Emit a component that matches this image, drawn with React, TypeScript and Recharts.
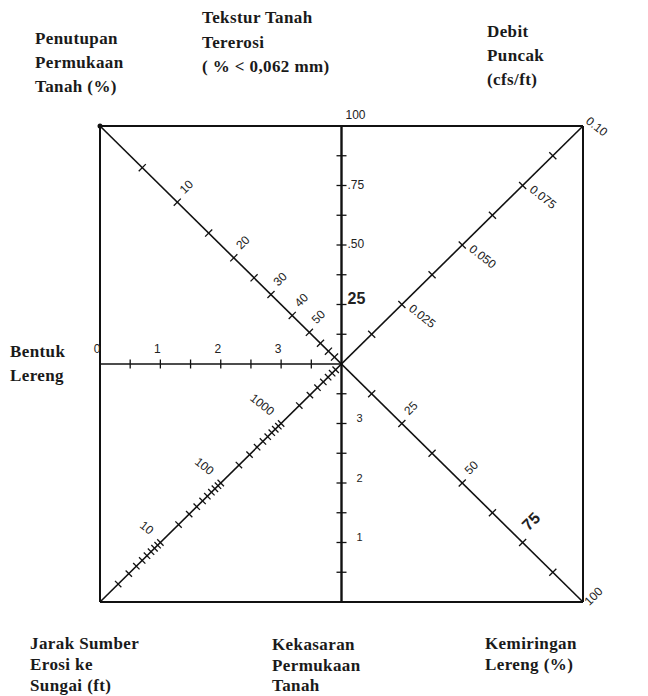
import { ReferenceLine, Scatter, ScatterChart, XAxis, YAxis } from 'recharts'

// box is 0..100 on both axes, the six scales meet at the centre (50, 50)

// Penutupan Permukaan Tanah (%) - top-left diagonal, uneven scale (0 = corner, 1 = centre)
const coverTicks = [5, 10, 15, 20, 25, 30, 40, 50, 60, 70, 80]
const coverPos = [0.175, 0.32, 0.45, 0.554, 0.638, 0.708, 0.796, 0.867, 0.913, 0.946, 0.971]
const coverLabels = [10, 20, 30, 40, 50]

// Tekstur Tanah Tererosi - upper half of vertical line, 0 at centre, 100 at top
const textureTicks = [12.5, 25, 37.5, 50, 62.5, 75, 87.5]
const textureLabels = [25, 50, 75, 100]
const textureText = ['25', '.50', '.75', '100']

// Debit Puncak (cfs/ft) - top-right diagonal, 0 at centre, 0.10 at corner
const peakTicks = [0.0125, 0.025, 0.0375, 0.05, 0.0625, 0.075, 0.0875]
const peakLabels = [0.025, 0.05, 0.075, 0.1]
const peakText = ['0.025', '0.050', '0.075', '0.10']

// Bentuk Lereng - left half of horizontal line, 0 at left edge, 4 at centre
const shapeTicks = [0.5, 1, 1.5, 2, 2.5, 3, 3.5]
const shapeLabels = [0, 1, 2, 3]

// Kekasaran Permukaan Tanah - lower half of vertical line, 0 at bottom, 4 at centre
const roughTicks = [0.5, 1, 1.5, 2, 2.5, 3, 3.5]
const roughLabels = [1, 2, 3]

// Jarak Sumber Erosi ke Sungai (ft) - bottom-left diagonal, log scale 1..10000
const distTicks = [
   2, 3, 4, 5, 6, 7, 8, 9, 10,
   20, 30, 40, 50, 60, 70, 80, 90, 100,
   200, 300, 400, 500, 600, 700, 800, 900, 1000,
   2000, 3000, 4000, 5000, 6000, 7000, 8000
]
const distLabels = [10, 100, 1000]

// Kemiringan Lereng (%) - bottom-right diagonal, 0 at centre, 100 at corner
const slopeTicks = [12.5, 25, 37.5, 50, 62.5, 75, 87.5]
const slopeLabels = [25, 50, 75, 100]

type Pt = { x: number; y: number }
const C: Pt = { x: 50, y: 50 }
const along = (a: Pt, b: Pt, t: number) => ({ x: a.x + (b.x - a.x) * t, y: a.y + (b.y - a.y) * t })

const coverFrac = (v: number) => coverPos[coverTicks.indexOf(v)]

const axes = {
   cover: { a: { x: 0, y: 100 }, b: C, f: coverFrac, ang: 45, len: 5 },
   texture: { a: C, b: { x: 50, y: 100 }, f: (v: number) => v / 100, ang: 90, len: 5 },
   peak: { a: C, b: { x: 100, y: 100 }, f: (v: number) => v / 0.1, ang: -45, len: 5 },
   shape: { a: { x: 0, y: 50 }, b: C, f: (v: number) => v / 4, ang: 0, len: 4.5 },
   rough: { a: { x: 50, y: 0 }, b: C, f: (v: number) => v / 4, ang: 90, len: 5 },
   dist: { a: { x: 0, y: 0 }, b: C, f: (v: number) => Math.log10(v) / 4, ang: -45, len: 4.5 },
   slope: { a: C, b: { x: 100, y: 0 }, f: (v: number) => v / 100, ang: 45, len: 5 }
}

type AxisKey = keyof typeof axes

const tickData = (key: AxisKey, values: number[]) => {
   const ax = axes[key]
   return values.map((v) => ({ ...along(ax.a, ax.b, ax.f(v)), ang: ax.ang, len: ax.len }))
}

type LabelStyle = { dx: number; dy: number; rot: number; anchor: string; size: number; bold?: boolean }

const labelData = (key: AxisKey, values: number[], texts: string[], style: LabelStyle, special: Record<string, Partial<LabelStyle>> = {}) => {
   const ax = axes[key]
   return values.map((v, i) => ({
      ...along(ax.a, ax.b, ax.f(v)),
      text: texts[i],
      ...style,
      ...(special[texts[i]] || {})
   }))
}

const allTicks = [
   ...tickData('cover', coverTicks),
   ...tickData('texture', textureTicks),
   ...tickData('peak', peakTicks),
   ...tickData('shape', shapeTicks),
   ...tickData('rough', roughTicks),
   ...tickData('dist', distTicks),
   ...tickData('slope', slopeTicks)
]

const allLabels = [
   ...labelData('cover', coverLabels, coverLabels.map(String), { dx: 5, dy: -10, rot: -45, anchor: 'start', size: 12 }),
   ...labelData('texture', textureLabels, textureText, { dx: 6, dy: 0, rot: 0, anchor: 'start', size: 12 }, {
      '25': { size: 16, bold: true, dx: 6, dy: -5 },
      '100': { dx: 4, dy: -10 }
   }),
   ...labelData('peak', peakLabels, peakText, { dx: 8, dy: 3, rot: 38, anchor: 'start', size: 12 }, {
      '0.10': { dx: 4, dy: -6 }
   }),
   ...labelData('shape', shapeLabels, shapeLabels.map(String), { dx: -3, dy: -14, rot: 0, anchor: 'middle', size: 12 }),
   ...labelData('rough', roughLabels, roughLabels.map(String), { dx: 15, dy: -4, rot: 0, anchor: 'start', size: 11 }),
   ...labelData('dist', distLabels, distLabels.map(String), { dx: -9, dy: -10, rot: 38, anchor: 'end', size: 12 }),
   ...labelData('slope', slopeLabels, slopeLabels.map(String), { dx: 5, dy: -10, rot: -45, anchor: 'start', size: 12 }, {
      '75': { size: 16, bold: true, dx: 3, dy: -14 },
      '100': { dx: 4, dy: 2 }
   })
]

const corner = [{ x: 0, y: 100 }]

const TickMark = (props: any) => {
   const { cx, cy, payload } = props
   const r = ((payload.ang + 90) * Math.PI) / 180
   const dx = Math.cos(r) * payload.len
   const dy = Math.sin(r) * payload.len
   return <line x1={cx - dx} y1={cy - dy} x2={cx + dx} y2={cy + dy} stroke="#111" strokeWidth={1.3} />
}

const TickText = (props: any) => {
   const { cx, cy, payload } = props
   const x = cx + payload.dx
   const y = cy + payload.dy
   return (
      <text
         x={x}
         y={y}
         textAnchor={payload.anchor}
         dominantBaseline="middle"
         transform={`rotate(${payload.rot} ${x} ${y})`}
         fontFamily="'Liberation Sans', Arial, sans-serif"
         fontSize={payload.size}
         fontWeight={payload.bold ? 'bold' : 'normal'}
         fill="#222"
      >
         {payload.text}
      </text>
   )
}

const titleStyle = {
   position: 'absolute' as const,
   fontFamily: "'Liberation Serif', 'Times New Roman', serif",
   fontWeight: 'bold' as const,
   fontSize: 17,
   letterSpacing: 0.4,
   color: '#1a1a1a',
   whiteSpace: 'nowrap' as const
}

const Title = ({ left, top, lh, lines }: { left: number; top: number; lh: number; lines: string[] }) => (
   <div style={{ ...titleStyle, left, top, lineHeight: `${lh}px` }}>
      {lines.map((l) => (
         <div key={l}>{l}</div>
      ))}
   </div>
)

export default function App() {
   const line = { stroke: '#111', ifOverflow: 'visible' as const }
   return (
      <div style={{ position: 'relative', width: 640, height: 688 }}>
         <ScatterChart width={640} height={688} margin={{ top: 118, right: 65, bottom: 94, left: 92 }}>
            <XAxis type="number" dataKey="x" domain={[0, 100]} hide />
            <YAxis type="number" dataKey="y" domain={[0, 100]} hide />
            {/* outer box */}
            <ReferenceLine segment={[{ x: 0, y: 100 }, { x: 100, y: 100 }]} {...line} strokeWidth={2} />
            <ReferenceLine segment={[{ x: 0, y: 0 }, { x: 100, y: 0 }]} {...line} strokeWidth={2} />
            <ReferenceLine segment={[{ x: 0, y: 0 }, { x: 0, y: 100 }]} {...line} strokeWidth={2} />
            <ReferenceLine segment={[{ x: 100, y: 0 }, { x: 100, y: 100 }]} {...line} strokeWidth={2} />
            {/* scale lines */}
            <ReferenceLine segment={[{ x: 50, y: 0 }, { x: 50, y: 100 }]} {...line} strokeWidth={2.4} />
            <ReferenceLine segment={[{ x: 0, y: 50 }, { x: 50, y: 50 }]} {...line} strokeWidth={1.5} />
            <ReferenceLine segment={[{ x: 0, y: 100 }, { x: 100, y: 0 }]} {...line} strokeWidth={1.6} />
            <ReferenceLine segment={[{ x: 0, y: 0 }, { x: 100, y: 100 }]} {...line} strokeWidth={1.6} />
            <Scatter data={allTicks} shape={TickMark} isAnimationActive={false} />
            <Scatter data={allLabels} shape={TickText} isAnimationActive={false} />
            <Scatter data={corner} fill="#111" shape={(p: any) => <circle cx={p.cx} cy={p.cy} r={2.5} fill="#111" />} isAnimationActive={false} />
         </ScatterChart>
         <Title left={27} top={19} lh={24} lines={['Penutupan', 'Permukaan', 'Tanah (%)']} />
         <Title left={194} top={-2} lh={24.5} lines={['Tekstur Tanah', 'Tererosi', '( % < 0,062 mm)']} />
         <Title left={479} top={12} lh={24} lines={['Debit', 'Puncak', '(cfs/ft)']} />
         <Title left={2} top={332} lh={24} lines={['Bentuk', 'Lereng']} />
         <Title left={22} top={625} lh={21} lines={['Jarak Sumber', 'Erosi ke', 'Sungai (ft)']} />
         <Title left={264} top={627} lh={20.5} lines={['Kekasaran', 'Permukaan', 'Tanah']} />
         <Title left={477} top={625} lh={21} lines={['Kemiringan', 'Lereng (%)']} />
      </div>
   )
}
